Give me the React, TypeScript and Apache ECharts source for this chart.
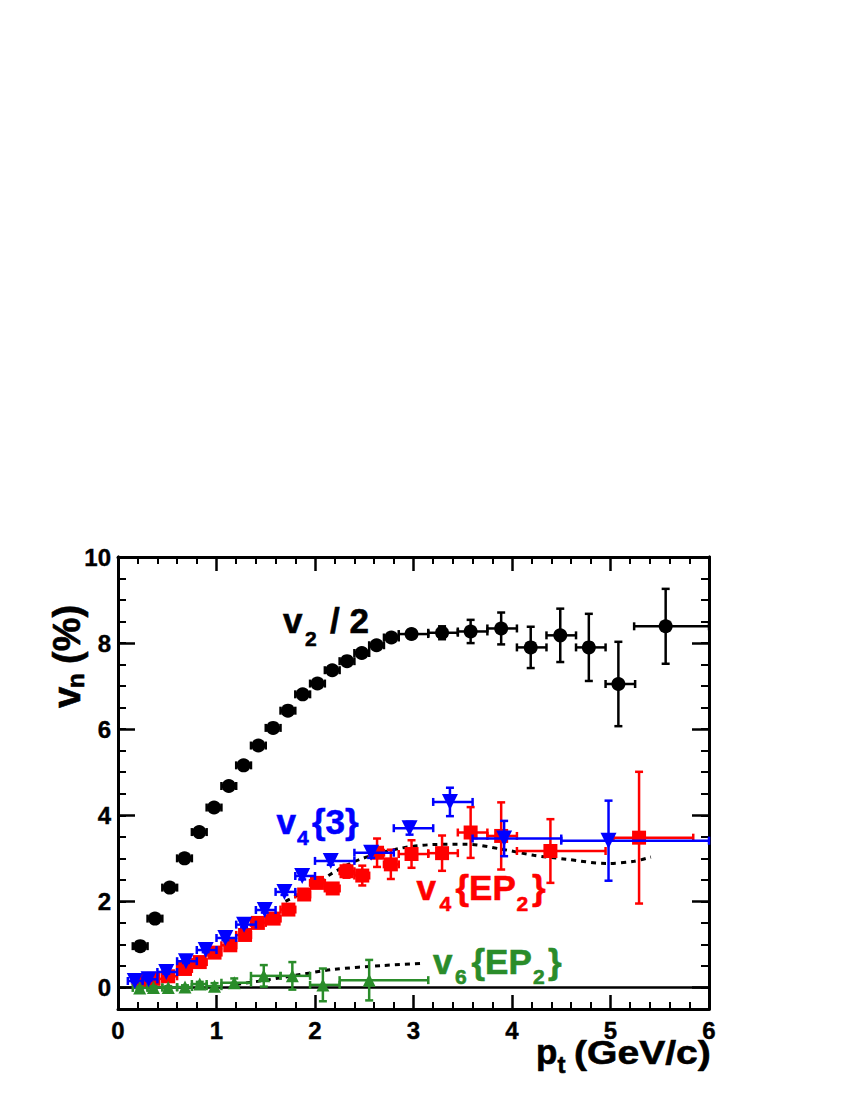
import React, { useEffect, useRef } from 'react';
import * as echarts from 'echarts';

const FONT = '"Liberation Sans", Arial, Helvetica, sans-serif';

// ---------- v2 / 2 (black circles) ----------
const v2X = [0.225, 0.375, 0.525, 0.675, 0.825, 0.975, 1.125, 1.275, 1.425, 1.575, 1.725, 1.875, 2.025, 2.175, 2.325, 2.475, 2.625, 2.775, 2.98, 3.29, 3.58, 3.89, 4.19, 4.49, 4.78, 5.08, 5.56];
const v2Y = [0.96, 1.60, 2.32, 3.00, 3.61, 4.18, 4.68, 5.16, 5.62, 6.03, 6.43, 6.81, 7.06, 7.37, 7.58, 7.77, 7.95, 8.13, 8.21, 8.24, 8.27, 8.34, 7.90, 8.18, 7.90, 7.05, 8.39];
const v2Err = [0.03, 0.03, 0.03, 0.03, 0.03, 0.03, 0.04, 0.04, 0.04, 0.05, 0.05, 0.05, 0.05, 0.06, 0.06, 0.07, 0.08, 0.09, 0.10, 0.15, 0.27, 0.37, 0.48, 0.62, 0.78, 0.98, 0.87];
const v2XLo = [0.15, 0.3, 0.45, 0.6, 0.75, 0.9, 1.05, 1.2, 1.35, 1.5, 1.65, 1.8, 1.95, 2.1, 2.25, 2.4, 2.55, 2.7, 2.85, 3.15, 3.45, 3.75, 4.05, 4.35, 4.65, 4.95, 5.24];
const v2XHi = [0.3, 0.45, 0.6, 0.75, 0.9, 1.05, 1.2, 1.35, 1.5, 1.65, 1.8, 1.95, 2.1, 2.25, 2.4, 2.55, 2.7, 2.85, 3.15, 3.45, 3.75, 4.05, 4.35, 4.65, 4.95, 5.25, 6.0];

// ---------- v4{EP2} (red squares) ----------
const v4EpX = [0.22, 0.36, 0.51, 0.68, 0.83, 0.98, 1.14, 1.29, 1.42, 1.58, 1.73, 1.89, 2.02, 2.18, 2.32, 2.48, 2.63, 2.77, 2.98, 3.29, 3.58, 3.89, 4.39, 5.29];
const v4EpY = [0.15, 0.20, 0.26, 0.43, 0.59, 0.81, 0.98, 1.22, 1.50, 1.60, 1.81, 2.16, 2.43, 2.30, 2.70, 2.60, 3.13, 2.86, 3.10, 3.12, 3.60, 3.52, 3.17, 3.48];
const v4EpErr = [0.03, 0.03, 0.03, 0.04, 0.04, 0.05, 0.05, 0.06, 0.06, 0.07, 0.08, 0.09, 0.10, 0.12, 0.15, 0.23, 0.33, 0.34, 0.32, 0.41, 0.59, 0.78, 0.74, 1.53];
const v4EpXLo = [0.15, 0.3, 0.45, 0.6, 0.75, 0.9, 1.05, 1.2, 1.35, 1.5, 1.65, 1.8, 1.95, 2.1, 2.25, 2.4, 2.55, 2.7, 2.85, 3.15, 3.45, 3.75, 4.05, 5.03];
const v4EpXHi = [0.3, 0.45, 0.6, 0.75, 0.9, 1.05, 1.2, 1.35, 1.5, 1.65, 1.8, 1.95, 2.1, 2.25, 2.4, 2.55, 2.7, 2.85, 3.15, 3.45, 3.75, 4.05, 4.95, 5.84];

// ---------- v4{3} (blue down-triangles) ----------
const v43X = [0.17, 0.31, 0.49, 0.69, 0.89, 1.09, 1.28, 1.49, 1.69, 1.87, 2.16, 2.57, 2.96, 3.37, 3.92, 4.98];
const v43Y = [0.15, 0.19, 0.36, 0.61, 0.87, 1.15, 1.46, 1.80, 2.22, 2.59, 2.94, 3.13, 3.70, 4.31, 3.46, 3.41];
const v43Err = [0.03, 0.03, 0.04, 0.04, 0.05, 0.05, 0.06, 0.06, 0.07, 0.08, 0.09, 0.12, 0.15, 0.33, 0.41, 0.93];
const v43XLo = [0.1, 0.25, 0.4, 0.6, 0.8, 1.0, 1.2, 1.4, 1.6, 1.8, 2.0, 2.4, 2.8, 3.2, 3.6, 4.5];
const v43XHi = [0.25, 0.4, 0.6, 0.8, 1.0, 1.2, 1.4, 1.6, 1.8, 2.0, 2.4, 2.8, 3.2, 3.6, 4.5, 6.0];

// ---------- v6{EP2} (green up-triangles) ----------
const v6X = [0.22, 0.36, 0.51, 0.68, 0.83, 0.98, 1.18, 1.48, 1.77, 2.08, 2.55];
const v6Y = [-0.01, 0.0, 0.0, 0.01, 0.08, 0.03, 0.11, 0.27, 0.27, 0.06, 0.17];
const v6Err = [0.03, 0.03, 0.03, 0.04, 0.05, 0.07, 0.10, 0.25, 0.32, 0.38, 0.47];
const v6XLo = [0.15, 0.3, 0.45, 0.6, 0.75, 0.9, 1.05, 1.35, 1.65, 1.95, 2.25];
const v6XHi = [0.3, 0.45, 0.6, 0.75, 0.9, 1.05, 1.35, 1.65, 1.95, 2.25, 3.15];

// ---------- theory curves (dotted) ----------
const thV4X = [1.7, 1.95, 2.15, 2.45, 2.86, 3.2, 3.54, 3.88, 4.22, 4.55, 4.96, 5.24, 5.41];
const thV4Y = [2.0, 2.3, 2.62, 2.97, 3.23, 3.32, 3.33, 3.22, 3.07, 2.98, 2.88, 2.93, 3.03];
const thV6X = [1.2, 1.5, 1.85, 2.19, 2.69, 3.1];
const thV6Y = [0.07, 0.17, 0.30, 0.42, 0.51, 0.56];

// ---------- axes ticks ----------
const xTicks = [0, 1, 2, 3, 4, 5, 6];
const yMajorTicks = [0, 2, 4, 6, 8, 10];

const BLACK = '#000000';
const RED = '#ff0000';
const BLUE = '#0000ff';
const GREEN = '#2a8c2a';

function errData(x: number[], y: number[], e: number[], lo: number[], hi: number[]) {
  return x.map((xv, i) => [xv, y[i], lo[i], hi[i], y[i] - e[i], y[i] + e[i]]);
}
function pts(x: number[], y: number[]) {
  return x.map((xv, i) => [xv, y[i]]);
}

function errRender(color: string) {
  return (params: any, api: any) => {
    const x = api.value(0), y = api.value(1);
    const xl = api.value(2), xh = api.value(3);
    const yl = api.value(4), yh = api.value(5);
    const pl = api.coord([xl, y]);
    const ph = api.coord([xh, y]);
    const pb = api.coord([x, yl]);
    const pt = api.coord([x, yh]);
    const style = { stroke: color, lineWidth: 2.5 };
    const cap = 4;
    const children: any[] = [];
    children.push({ type: 'line', shape: { x1: pl[0], y1: pl[1], x2: ph[0], y2: ph[1] }, style });
    children.push({ type: 'line', shape: { x1: pl[0], y1: pl[1] - cap, x2: pl[0], y2: pl[1] + cap }, style });
    children.push({ type: 'line', shape: { x1: ph[0], y1: ph[1] - cap, x2: ph[0], y2: ph[1] + cap }, style });
    children.push({ type: 'line', shape: { x1: pb[0], y1: pb[1], x2: pt[0], y2: pt[1] }, style });
    children.push({ type: 'line', shape: { x1: pb[0] - cap, y1: pb[1], x2: pb[0] + cap, y2: pb[1] }, style });
    children.push({ type: 'line', shape: { x1: pt[0] - cap, y1: pt[1], x2: pt[0] + cap, y2: pt[1] }, style });
    return { type: 'group', children };
  };
}

function errSeries(name: string, color: string, data: any[], z: number) {
  return {
    name: name + ' err',
    type: 'custom',
    renderItem: errRender(color),
    data,
    encode: { x: 0, y: 1 },
    z,
    silent: true,
  };
}

function txt(text: string, x: number, baseline: number, size: number, color: string, extra: any = {}) {
  return {
    type: 'text',
    x,
    y: baseline - 0.3465 * size,
    z: 100,
    ...extra,
    style: {
      text,
      fill: color,
      stroke: color,
      lineWidth: 0.6,
      font: `bold ${size}px ${FONT}`,
      align: 'left',
      verticalAlign: 'middle',
      textAlign: 'left',
      textVerticalAlign: 'middle',
    },
  };
}
function vtxt(text: string, baselineX: number, startY: number, size: number, color: string) {
  return {
    type: 'text',
    x: baselineX - 0.3465 * size,
    y: startY,
    rotation: Math.PI / 2,
    z: 100,
    style: {
      text,
      fill: color,
      stroke: color,
      lineWidth: 0.6,
      font: `bold ${size}px ${FONT}`,
      align: 'left',
      verticalAlign: 'middle',
      textAlign: 'left',
      textVerticalAlign: 'middle',
    },
  };
}

const axisLine = { show: true, onZero: false, lineStyle: { color: BLACK, width: 3 } };
const labelStyle = { fontSize: 24, fontWeight: 'bold', color: BLACK, fontFamily: FONT, textBorderColor: BLACK, textBorderWidth: 0.4 };

const xCommon = {
  type: 'value',
  min: xTicks[0],
  max: xTicks[xTicks.length - 1],
  interval: 1,
  axisLine,
  axisTick: { show: true, inside: true, length: 14, lineStyle: { color: BLACK, width: 2.5 } },
  minorTick: { show: true, splitNumber: 5, length: 7, lineStyle: { color: BLACK, width: 2 } },
  splitLine: { show: false },
  minorSplitLine: { show: false },
};

const yMinor = {
  type: 'value',
  min: -0.5,
  max: 10,
  interval: 0.5,
  axisLine,
  axisTick: { show: true, inside: true, length: 8, lineStyle: { color: BLACK, width: 2 } },
  axisLabel: { show: false },
  splitLine: { show: false },
};
const yMajor = {
  type: 'value',
  min: -0.5,
  max: 10,
  axisLine,
  axisTick: { show: true, inside: true, length: 17, customValues: yMajorTicks, lineStyle: { color: BLACK, width: 2.5 } },
  splitLine: { show: false },
};

const option: any = {
  animation: false,
  backgroundColor: '#ffffff',
  grid: { left: 118, top: 557, width: 591, height: 452, containLabel: false },
  xAxis: [
    { ...xCommon, position: 'bottom', axisLabel: { ...labelStyle, margin: 9 } },
    { ...xCommon, position: 'top', axisLabel: { show: false } },
  ],
  yAxis: [
    { ...yMinor, position: 'left' },
    { ...yMajor, position: 'left', axisLabel: { ...labelStyle, margin: 7, customValues: yMajorTicks } },
    { ...yMinor, position: 'right' },
    { ...yMajor, position: 'right', axisLabel: { show: false } },
  ],
  series: [
    {
      name: 'v6 theory',
      type: 'line',
      data: pts(thV6X, thV6Y),
      smooth: 0.3,
      symbol: 'none',
      lineStyle: { color: BLACK, width: 3, type: [5, 5] },
      z: 3,
      markLine: {
        silent: true,
        symbol: 'none',
        label: { show: false },
        lineStyle: { color: BLACK, width: 2.5, type: 'solid' },
        data: [{ yAxis: 0 }],
      },
    },
    {
      name: 'v4 theory',
      type: 'line',
      data: pts(thV4X, thV4Y),
      smooth: 0.3,
      symbol: 'none',
      lineStyle: { color: BLACK, width: 3, type: [5, 5] },
      z: 3,
    },
    errSeries('v2/2', BLACK, errData(v2X, v2Y, v2Err, v2XLo, v2XHi), 4),
    { name: 'v2/2', type: 'scatter', data: pts(v2X, v2Y), symbol: 'circle', symbolSize: 14, itemStyle: { color: BLACK, opacity: 1 }, z: 5 },
    errSeries('v4{EP2}', RED, errData(v4EpX, v4EpY, v4EpErr, v4EpXLo, v4EpXHi), 4),
    { name: 'v4{EP2}', type: 'scatter', data: pts(v4EpX, v4EpY), symbol: 'rect', symbolSize: 14, itemStyle: { color: RED, opacity: 1 }, z: 5 },
    errSeries('v4{3}', BLUE, errData(v43X, v43Y, v43Err, v43XLo, v43XHi), 6),
    { name: 'v4{3}', type: 'scatter', data: pts(v43X, v43Y), symbol: 'triangle', symbolRotate: 180, symbolSize: 16, itemStyle: { color: BLUE, opacity: 1 }, z: 7 },
    errSeries('v6{EP2}', GREEN, errData(v6X, v6Y, v6Err, v6XLo, v6XHi), 6),
    { name: 'v6{EP2}', type: 'scatter', data: pts(v6X, v6Y), symbol: 'triangle', symbolSize: 13, itemStyle: { color: GREEN, opacity: 1 }, z: 7 },
  ],
  graphic: [
    // v2 / 2
    txt('v', 283, 633, 35, BLACK),
    txt('2', 305, 646, 21, BLACK),
    txt('/ 2', 330, 633, 35, BLACK),
    // v4{3}
    txt('v', 276.5, 833.3, 35, BLUE),
    txt('4', 297, 845, 21, BLUE),
    txt('{3}', 312, 833.3, 35, BLUE),
    // v4{EP2}
    txt('v', 416.5, 900, 35, RED),
    txt('4', 439.5, 911, 21, RED),
    txt('{EP', 455.5, 900, 35, RED),
    txt('2', 516.5, 911, 21, RED),
    txt('}', 532, 900, 35, RED),
    // v6{EP2}
    txt('v', 433, 973.3, 35, GREEN),
    txt('6', 455, 984, 21, GREEN),
    txt('{EP', 471.5, 973.3, 35, GREEN),
    txt('2', 533, 984, 21, GREEN),
    txt('}', 548, 973.3, 35, GREEN),
    // x title
    txt('p', 536, 1064, 35, BLACK),
    txt('t', 557.5, 1073, 24, BLACK),
    txt('(GeV/c)', 574, 1064, 34, BLACK, { scaleX: 1.15 }),
    // y title
    vtxt('v', 80, 708, 38, BLACK),
    vtxt('n', 84, 688, 24, BLACK),
    vtxt('(%)', 80, 664, 38, BLACK),
  ],
};

export default function App() {
  const ref = useRef<HTMLDivElement>(null);
  useEffect(() => {
    document.body.style.margin = '0';
    const chart = echarts.init(ref.current as HTMLDivElement, null, { renderer: 'svg' });
    chart.setOption(option);
    return () => {
      chart.dispose();
    };
  }, []);
  return <div ref={ref} style={{ width: 850, height: 1100 }} />;
}
